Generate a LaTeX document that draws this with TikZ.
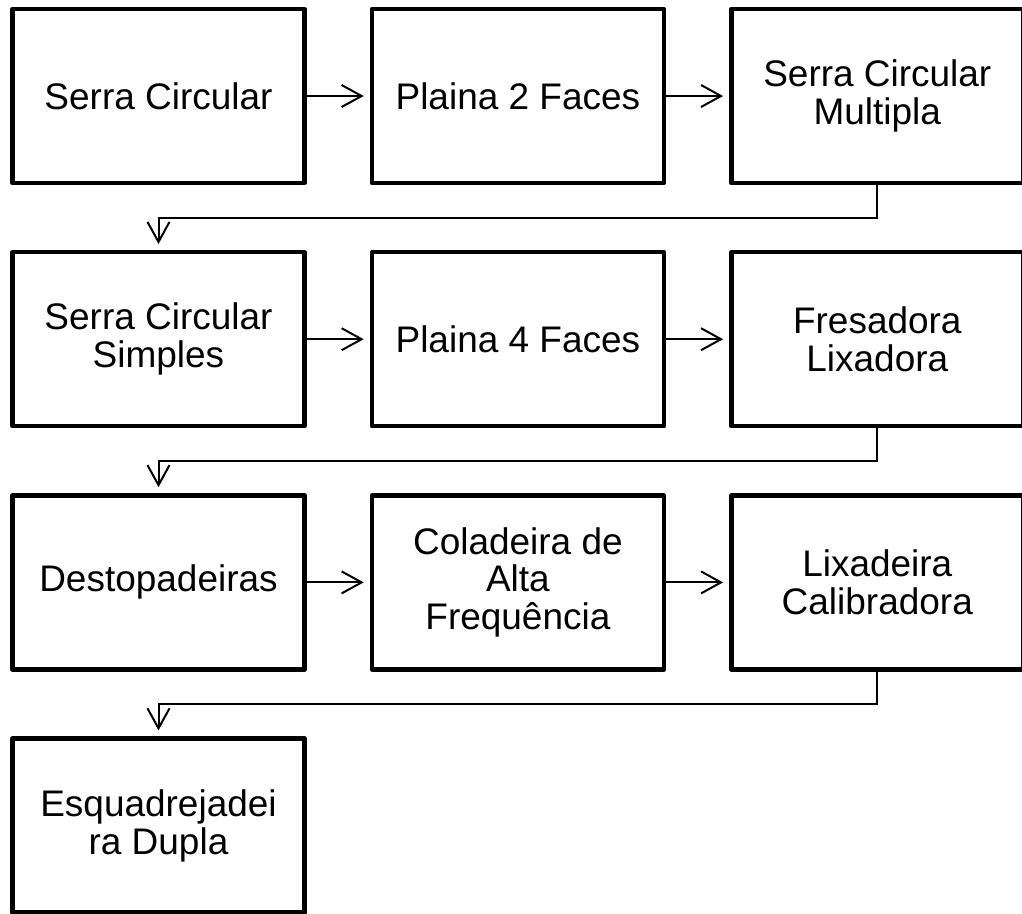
\documentclass[tikz,border=0pt]{standalone}
\usepackage{fontspec}
\setmainfont{Liberation Sans}
\usetikzlibrary{arrows.meta,positioning}

\begin{document}
\begin{tikzpicture}[
  every node/.style={draw, line width=0.11cm, line join=round, minimum width=7.3cm, minimum height=4.35cm, align=center, font=\fontsize{26.3}{26.8}\selectfont, inner sep=2pt},
  node distance=1.62cm and 1.575cm,
  >={Straight Barb[length=0.5cm,width=0.55cm]},
  flow/.style={draw, ->, line width=0.05cm, shorten >=0.15cm}
]
\useasboundingbox (0,0) rectangle (25.55,-22.825);

% linha 1
\node (serra) at (3.9625,-2.4) {Serra Circular};
\node (plaina2) [right=of serra] {Plaina 2 Faces};
\node (multipla) [right=of plaina2] {Serra Circular\\Multipla};
% linha 2
\node (simples) [below=of serra] {Serra Circular\\Simples};
\node (plaina4) [right=of simples] {Plaina 4 Faces};
\node (fresadora) [right=of plaina4] {Fresadora\\Lixadora};
% linha 3
\node (destopa) [below=of simples] {Destopadeiras};
\node (coladeira) [right=of destopa] {Coladeira de\\Alta\\Frequência};
\node (lixadeira) [right=of coladeira] {Lixadeira\\Calibradora};
% linha 4
\node (esquadro) [below=of destopa] {Esquadrejadei\\ra Dupla};

\draw[flow] (serra) -- (plaina2);
\draw[flow] (plaina2) -- (multipla);
\draw[flow] (multipla.south) -- ++(0,-0.81) -| (simples.north);
\draw[flow] (simples) -- (plaina4);
\draw[flow] (plaina4) -- (fresadora);
\draw[flow] (fresadora.south) -- ++(0,-0.81) -| (destopa.north);
\draw[flow] (destopa) -- (coladeira);
\draw[flow] (coladeira) -- (lixadeira);
\draw[flow] (lixadeira.south) -- ++(0,-0.81) -| (esquadro.north);
\end{tikzpicture}
\end{document}
